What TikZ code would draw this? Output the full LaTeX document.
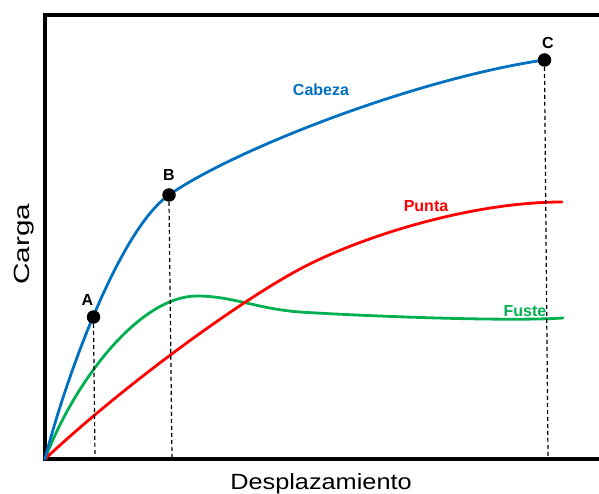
\documentclass[tikz,border=0pt]{standalone}
\usepackage{fontspec}
\setmainfont{Liberation Sans}
\definecolor{cblue}{RGB}{0,112,192}
\definecolor{cred}{RGB}{255,0,0}
\definecolor{cgreen}{RGB}{0,176,80}
\tikzset{
  axisline/.style={line width=4pt, line cap=butt, line join=miter},
  curve/.style={line width=2.8pt, line cap=round},
  guide/.style={line width=1.2pt, dash pattern=on 4pt off 3pt},
  dot/.style={circle, fill=black, inner sep=0pt, minimum size=13.5pt},
  ptlabel/.style={font=\bfseries\fontsize{16}{19}\selectfont},
  axislabel/.style={font=\fontsize{22}{26}\selectfont, inner sep=0pt}
}
\begin{document}
\begin{tikzpicture}[x=1pt,y=-1pt]
\useasboundingbox (0,0) rectangle (599,494);
% frame
\draw[axisline] (599,15.5) -- (45,15.5) -- (45,459) -- (599,459);
% curves
\draw[curve, cgreen] (45,459) .. controls (75,380) and (140,296) .. (197,296)
  .. controls (232,296) and (258,309) .. (300,312)
  .. controls (345,315) and (500,322) .. (563,318);
\draw[curve, cred] (45,459) .. controls (125,384) and (240,301) .. (300,269)
  .. controls (360,237) and (470,202) .. (562,202);
\draw[curve, cblue] (45,459) .. controls (65,380) and (119,230) .. (169,195)
  .. controls (230,152) and (410,80) .. (544,60);
% dots
\node[dot] (A) at (93.5,317) {};
\node[dot] (B) at (169,195) {};
\node[dot] (C) at (544.5,60) {};
\coordinate (Ab) at (95,457);
\coordinate (Bb) at (172,457);
\coordinate (Cb) at (548,457);
\draw[guide] (A.south) -- (Ab);
\draw[guide] (B.south) -- (Bb);
\draw[guide] (C.south) -- (Cb);
% point labels
\node[ptlabel] (lA) at (87.5,300) {A};
\node[ptlabel] (lB) at (169,175) {B};
\node[ptlabel] (lC) at (548,43) {C};
% curve labels
\node[ptlabel, text=cblue] (lCab) at (321,90) {Cabeza};
\node[ptlabel, text=cred] (lPun) at (426,206) {Punta};
\node[ptlabel, text=cgreen] (lFus) at (525,311) {Fuste};
% axis labels
\node[axislabel, anchor=base, xscale=1.15] (xl) at (321,489) {Desplazamiento};
\node[axislabel, anchor=base, rotate=90, xscale=1.35] (yl) at (29,244) {Carga};
\end{tikzpicture}
\end{document}
